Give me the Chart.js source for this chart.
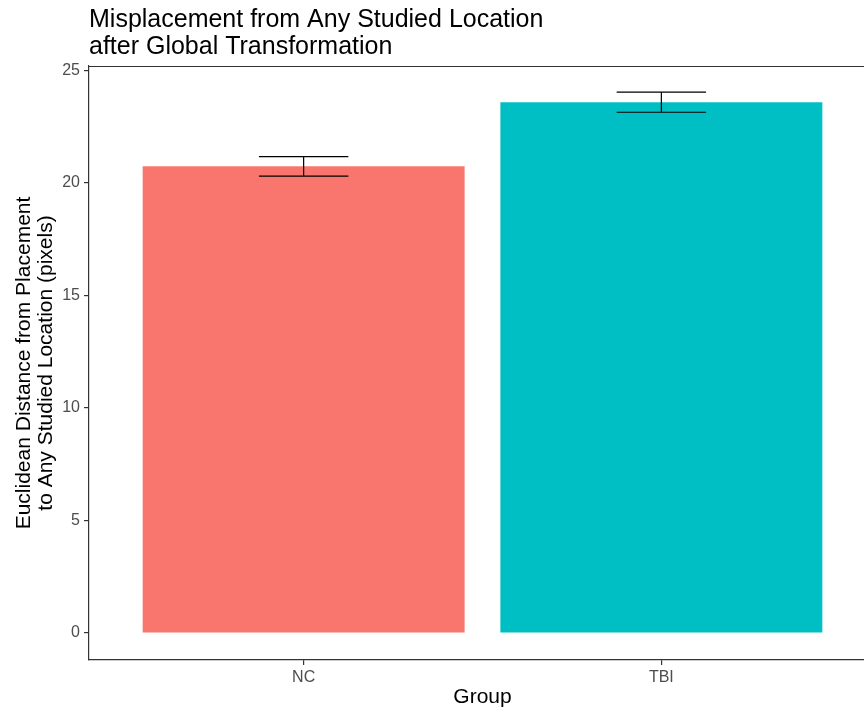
<!DOCTYPE html>
<html>
<head>
<meta charset="utf-8">
<script src="https://cdn.jsdelivr.net/npm/chart.js@4/dist/chart.umd.min.js"></script>
<style>
  html, body { margin: 0; padding: 0; background: #fff; overflow: hidden; }
  #wrap { position: relative; width: 877px; height: 710px; }
</style>
</head>
<body>
<div id="wrap"><canvas id="misplacement"></canvas></div>
<script>
const groups = ['NC', 'TBI']
const means = [20.74, 23.59]
const stdErr = [0.43, 0.445]
const barColors = ['#F8766D', '#00BFC4']
const yTicks = [0, 5, 10, 15, 20, 25]
const titleLines = ['Misplacement from Any Studied Location', 'after Global Transformation']
const yTitle = ['Euclidean Distance from Placement', 'to Any Studied Location (pixels)']

const FONT = '"Liberation Sans", Arial, Helvetica, sans-serif'
const INK = '#333333'

// title, top/right panel border and error bars
const extras = {
    id: 'extras',
    afterDatasetsDraw(chart) {
        const { ctx, chartArea, scales: { x, y } } = chart
        ctx.save()

        ctx.strokeStyle = '#000'
        ctx.lineWidth = 1.2
        means.forEach((m, i) => {
            const cx = x.getPixelForValue(i + 1)
            const half = x.getPixelForValue(i + 1.125) - cx
            const top = y.getPixelForValue(m + stdErr[i])
            const bot = y.getPixelForValue(m - stdErr[i])
            ctx.beginPath()
            ctx.moveTo(cx - half, top); ctx.lineTo(cx + half, top)
            ctx.moveTo(cx - half, bot); ctx.lineTo(cx + half, bot)
            ctx.moveTo(cx, top); ctx.lineTo(cx, bot)
            ctx.stroke()
        })

        ctx.strokeStyle = INK
        ctx.lineWidth = 1.2
        ctx.beginPath()
        ctx.moveTo(chartArea.left, chartArea.top + 0.5)
        ctx.lineTo(chartArea.right, chartArea.top + 0.5)
        ctx.lineTo(chartArea.right, chartArea.bottom)
        ctx.stroke()

        ctx.fillStyle = '#000'
        ctx.font = '25px ' + FONT
        ctx.textBaseline = 'alphabetic'
        ctx.textAlign = 'left'
        titleLines.forEach((t, i) => ctx.fillText(t, chartArea.left, 27 + i * 26.5))
        ctx.restore()
    }
}

new Chart('misplacement', {
    type: 'bar',
    data: {
        datasets: [{
            data: groups.map((g, i) => ({ x: i + 1, y: means[i] })),
            backgroundColor: barColors,
            categoryPercentage: 1,
            barPercentage: 0.9
        }]
    },
    options: {
        responsive: true,
        maintainAspectRatio: false,
        animation: false,
        layout: { padding: { top: 66, left: 0, right: 1, bottom: 0 } },
        plugins: { legend: { display: false }, tooltip: { enabled: false } },
        scales: {
            x: {
                type: 'linear',
                min: 0.4,
                max: 2.6,
                offset: false,
                afterBuildTicks: s => { s.ticks = groups.map((g, i) => ({ value: i + 1 })) },
                afterFit: s => { s.height = 50 },
                grid: { display: true, offset: false, drawOnChartArea: false, drawTicks: true, tickLength: 5, color: INK, lineWidth: 1.2 },
                border: { display: true, color: INK, width: 1.2 },
                ticks: {
                    padding: 3,
                    color: '#4D4D4D',
                    font: { family: FONT, size: 16 },
                    callback: v => groups[v - 1]
                },
                title: {
                    display: true,
                    text: 'Group',
                    color: '#000',
                    font: { family: FONT, size: 21 },
                    padding: { top: 0, bottom: 0 }
                }
            },
            y: {
                min: -1.2,
                max: 25.2,
                afterBuildTicks: s => { s.ticks = yTicks.map(v => ({ value: v })) },
                afterFit: s => { s.width = 89 },
                grid: { display: true, drawOnChartArea: false, drawTicks: true, tickLength: 5, color: INK, lineWidth: 1.2 },
                border: { display: true, color: INK, width: 1.2 },
                ticks: {
                    padding: 4,
                    color: '#4D4D4D',
                    font: { family: FONT, size: 16 }
                },
                title: {
                    display: true,
                    text: yTitle,
                    color: '#000',
                    font: { family: FONT, size: 21, lineHeight: 1.05 },
                    padding: { top: 13, bottom: 0 }
                }
            }
        }
    },
    plugins: [extras]
})
</script>
</body>
</html>
